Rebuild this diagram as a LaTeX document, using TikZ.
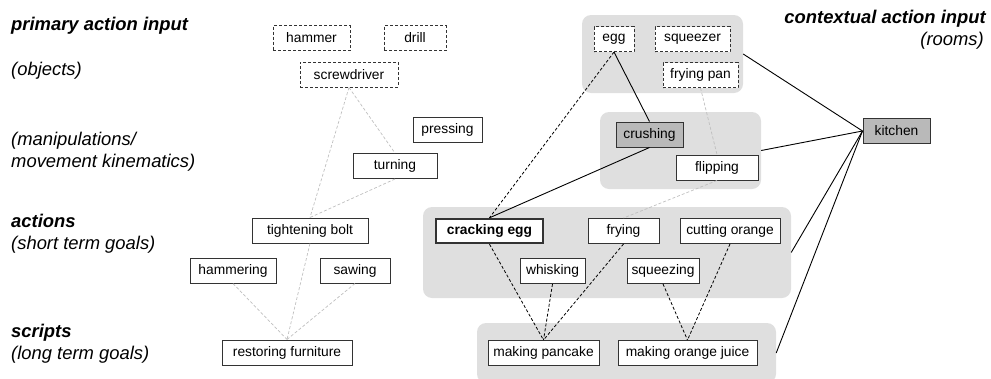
\documentclass[tikz,border=0pt]{standalone}
\usepackage{fontspec}
\setmainfont{Liberation Sans}
\usetikzlibrary{positioning}

\begin{document}
\begin{tikzpicture}[x=1pt,y=-1pt,
  box/.style={draw=black!80,line width=1pt,fill=#1,minimum height=25pt,inner sep=2pt,
              font=\fontsize{13.8}{15}\selectfont},
  box/.default=white,
  obj/.style={box,dash pattern=on 3pt off 2pt},
  grp/.style={fill=gray!25,rounded corners=9pt,inner sep=0pt},
  lvl/.style={anchor=base west,inner sep=0pt,font=\fontsize{18.4}{21}\selectfont\itshape},
  soft/.style={gray!50,dash pattern=on 3pt off 2pt,line width=0.7pt},
  hard/.style={black,dash pattern=on 3pt off 2pt,line width=0.8pt},
  link/.style={black,line width=0.9pt}]
  \useasboundingbox (0,0) rectangle (991,378);
  % level labels
  \node[lvl,font=\fontsize{18.4}{21}\selectfont\bfseries\itshape] (prim) at (11,30) {primary action input};
  \node[lvl] (objs) at (11,75) {(objects)};
  \node[lvl] (man1) at (11,145) {(manipulations/};
  \node[lvl] (man2) at (11,167) {movement kinematics)};
  \node[lvl,font=\fontsize{18.4}{21}\selectfont\bfseries\itshape] (acts) at (11,227) {actions};
  \node[lvl] (actsub) at (11,249) {(short term goals)};
  \node[lvl,font=\fontsize{18.4}{21}\selectfont\bfseries\itshape] (scr) at (11,337) {scripts};
  \node[lvl] (scrsub) at (11,359) {(long term goals)};
  \node[lvl,anchor=base east,font=\fontsize{18.4}{21}\selectfont\bfseries\itshape] (ctx) at (986,23) {contextual action input};
  \node[lvl,anchor=base east] (rooms) at (984,45) {(rooms)};
  % grey groups
  \node[grp,minimum width=161,minimum height=78] (gobj) at (662.5,54) {};
  \node[grp,minimum width=161,minimum height=77] (gman) at (680.5,150.5) {};
  \node[grp,minimum width=368,minimum height=91] (gact) at (607,252.5) {};
  \node[grp,minimum width=299,minimum height=60] (gscr) at (626.5,353) {};
  % workshop side
  \node[obj,minimum width=77] (hmr) at (311.5,38) {hammer};
  \node[obj,minimum width=62] (drl) at (415,38) {drill};
  \node[obj,minimum width=98] (scrd) at (349,74.5) {screwdriver};
  \node[box,minimum width=69] (prs) at (447.5,130) {pressing};
  \node[box,minimum width=84] (turn) at (395,166) {turning};
  \node[box,minimum width=116] (tight) at (310,230.5) {tightening bolt};
  \node[box,minimum width=86] (hamg) at (233,270.5) {hammering};
  \node[box,minimum width=70] (saw) at (355,270.5) {sawing};
  \node[box,minimum width=130] (restore) at (287,352.5) {restoring furniture};
  % kitchen side
  \node[obj,minimum width=40] (egg) at (614,39) {egg};
  \node[obj,minimum width=75] (sqzr) at (692.5,39) {squeezer};
  \node[obj,minimum width=75] (pan) at (700.5,75) {frying pan};
  \node[box=gray!55,minimum width=67] (crush) at (649.5,134.5) {crushing};
  \node[box,minimum width=82] (flip) at (717,167.5) {flipping};
  \node[box=gray!55,minimum width=67] (kitchen) at (896.5,131) {kitchen};
  \node[box,line width=2.4pt,minimum width=107,minimum height=24,font=\fontsize{13.8}{15}\selectfont\bfseries] (crack) at (489.5,231) {cracking egg};
  \node[box,minimum width=71] (fry) at (623.5,231) {frying};
  \node[box,minimum width=100] (cutor) at (730,231) {cutting orange};
  \node[box,minimum width=65] (whisk) at (552.5,271) {whisking};
  \node[box,minimum width=72] (sqzg) at (663,271) {squeezing};
  \node[box,minimum width=111] (pancake) at (543.5,353) {making pancake};
  \node[box,minimum width=139] (juice) at (687.5,353) {making orange juice};
  % connectors
  \foreach \a/\b in {scrd/turn,scrd/tight,turn/tight,tight/restore,hamg/restore,saw/restore,pan/flip,flip/fry}
    \draw[soft] (\a.south) -- (\b.north);
  \foreach \a/\b in {egg/crack,crack/pancake,whisk/pancake,fry/pancake,sqzg/juice,cutor/juice}
    \draw[hard] (\a.south) -- (\b.north);
  \foreach \a/\b in {egg/crush,crush/crack}
    \draw[link] (\a.south) -- (\b.north);
  \foreach \g in {gobj,gman,gact,gscr}
    \draw[link] (\g.east) -- (kitchen.west);
\end{tikzpicture}
\end{document}
